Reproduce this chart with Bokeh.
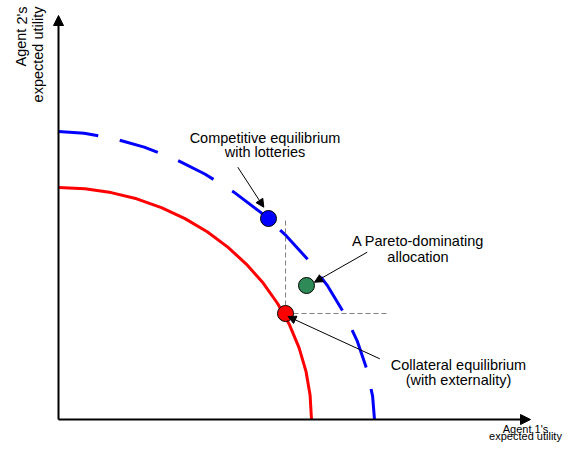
from bokeh.plotting import figure
from bokeh.models import Range1d, Arrow, NormalHead, Label, ColumnDataSource
from bokeh.embed import file_html
from bokeh.resources import INLINE

# ---- data (utility units) ----
# Pareto frontier with collateral (red, solid)
red_u1 = [0.0, 0.264, 0.526, 0.782, 1.029, 1.265, 1.487, 1.693, 1.880, 2.047,
          2.191, 2.311, 2.406, 2.475, 2.516, 2.53]
red_u2 = [2.32, 2.307, 2.269, 2.207, 2.119, 2.009, 1.877, 1.724, 1.552, 1.364,
          1.16, 0.944, 0.717, 0.482, 0.242, 0.0]
# Frontier with lotteries (blue, dashed)
blue_u1 = [0.0, 0.257, 0.552, 0.857, 1.163, 1.463, 1.751, 2.022, 2.272, 2.497,
           2.693, 2.858, 2.989, 3.083, 3.141, 3.16]
blue_u2 = [2.88, 2.862, 2.810, 2.724, 2.605, 2.455, 2.276, 2.071, 1.843, 1.596,
           1.333, 1.060, 0.781, 0.503, 0.234, 0.0]
# Allocations
point_names = ["Competitive equilibrium with lotteries", "A Pareto-dominating allocation",
               "Collateral equilibrium (with externality)"]
point_u1 = [2.10, 2.48, 2.27]
point_u2 = [2.01, 1.34, 1.06]
point_colors = ["#0000ff", "#2e8b57", "#ff0000"]
# Dominance guide ends
guide_top_u2 = 1.99
guide_right_u1 = 3.30

label_competitive = ["Competitive equilibrium", "with lotteries"]
label_pareto = ["A Pareto-dominating", "allocation"]
label_collateral = ["Collateral equilibrium", "(with externality)"]
x_label = ["Agent 1's", "expected utility"]
y_label = ["Agent 2's", "expected utility"]

FONT = "Liberation Sans"
FS = "14.5px"

p = figure(width=564, height=442, output_backend="svg", toolbar_location=None,
           x_range=Range1d(-0.58, 5.06), y_range=Range1d(-0.23, 4.19),
           x_axis_location=None, y_axis_location=None,
           min_border=0, min_border_left=0, min_border_right=0,
           min_border_top=0, min_border_bottom=0)
p.outline_line_color = None
p.grid.grid_line_color = None
p.grid.visible = False
p.background_fill_color = "white"
p.border_fill_color = "white"

# axes as arrows
p.add_layout(Arrow(x_start=0, y_start=0, x_end=0, y_end=4.04, line_width=2, line_color="black",
                   end=NormalHead(size=10, fill_color="black", line_color="black")))
p.add_layout(Arrow(x_start=0, y_start=0, x_end=4.72, y_end=0, line_width=2, line_color="black",
                   end=NormalHead(size=10, fill_color="black", line_color="black")))

# frontiers
p.line(red_u1, red_u2, line_color="#ff0000", line_width=3)
p.line(blue_u1, blue_u2, line_color="#0000ff", line_width=3, line_dash="40 22")

# dominance guides from collateral equilibrium
p.line([point_u1[2], point_u1[2]], [point_u2[2], guide_top_u2], line_color="#808080",
       line_width=1, line_dash="5 3")
p.line([point_u1[2], guide_right_u1], [point_u2[2], point_u2[2]], line_color="#808080",
       line_width=1, line_dash="5 3")

# points
src = ColumnDataSource(dict(x=point_u1, y=point_u2, c=point_colors, name=point_names))
p.scatter("x", "y", source=src, size=16, fill_color="c", line_color="black", line_width=1)

# pointer arrows
def pointer(x0, y0, x1, y1):
    p.add_layout(Arrow(x_start=x0, y_start=y0, x_end=x1, y_end=y1, line_width=1,
                       line_color="black",
                       end=NormalHead(size=8, fill_color="black", line_color="black")))

pointer(1.793, 2.523, 2.053, 2.123)
pointer(3.087, 1.673, 2.56, 1.373)
pointer(3.213, 0.607, 2.295, 1.03)

def lab(x, y, t, align="center", angle=0.0, fs=FS, baseline="alphabetic"):
    p.add_layout(Label(x=x, y=y, text=t, text_align=align, text_baseline=baseline,
                       angle=angle, text_font=FONT, text_font_size=fs, text_color="black"))

lab(2.065, 2.82, label_competitive[0])
lab(2.065, 2.677, label_competitive[1])
lab(3.595, 1.783, label_pareto[0])
lab(3.595, 1.623, label_pareto[1])
lab(4.00, 0.545, label_collateral[0])
lab(4.00, 0.395, label_collateral[1])
lab(4.67, -0.093, x_label[0], fs="11px")
lab(4.67, -0.222, x_label[1], fs="11px", baseline="bottom")
lab(-0.37, 4.13, y_label[0], align="right", angle=1.5707963)
lab(-0.21, 4.13, y_label[1], align="right", angle=1.5707963)

open("out.html", "w").write(file_html(p, INLINE))
